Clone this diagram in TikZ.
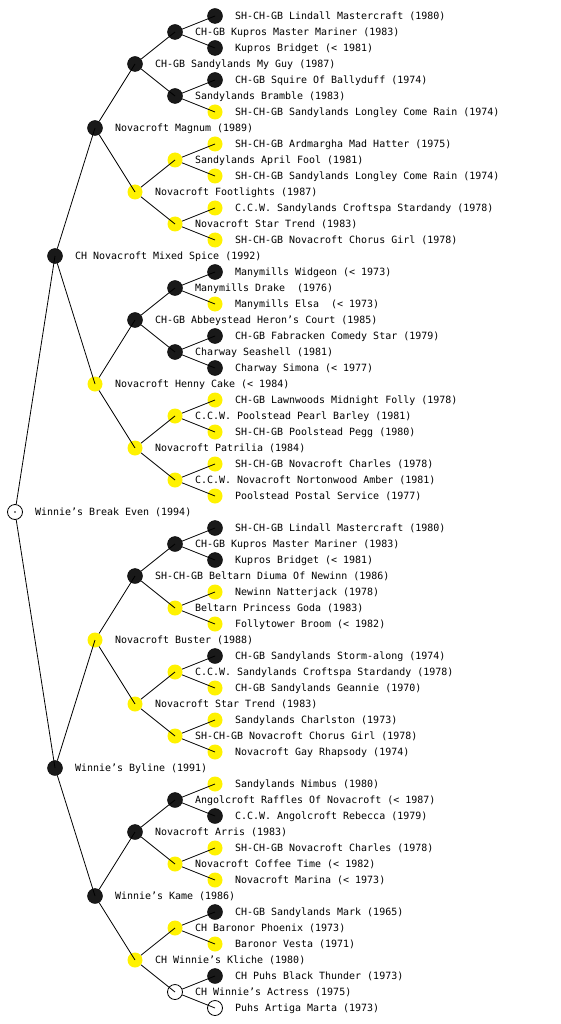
\documentclass[tikz,border=0pt]{standalone}
\usepackage{fontspec}
\newfontfamily\pedfont{DejaVu Sans Mono}
\begin{document}
\begin{tikzpicture}[x=1pt,y=-1pt,
  dog/.style={circle,minimum size=15pt,inner sep=0pt},
  bn/.style={dog,draw=black,fill=black!90},
  yn/.style={dog,draw=none,fill=yellow},
  wn/.style={dog,draw=black,line width=0.8pt,fill=none},
  lbl/.style={anchor=west,inner sep=0pt,font=\pedfont\fontsize{9.97}{12}\selectfont},
  edge/.style={draw=black,line width=0.8pt}]
\useasboundingbox (0,0) rectangle (560,1024);
\newcommand\pn[5]{\node[#2] (n#1) at (#3,{16*#1}) {}; \node[lbl] (t#1) at ({#3+20},{16*#1+0.5}) {#4#5};}
% rows 1..63
\pn{1}{bn}{215}{SH-CH-GB Lindall Mastercraft (1980)}{}
\pn{2}{bn}{175}{CH-GB Kupros Master Mariner (1983)}{}
\pn{3}{bn}{215}{Kupros Bridget (< 1981)}{}
\pn{4}{bn}{135}{CH-GB Sandylands My Guy (1987)}{}
\pn{5}{bn}{215}{CH-GB Squire Of Ballyduff (1974)}{}
\pn{6}{bn}{175}{Sandylands Bramble (1983)}{}
\pn{7}{yn}{215}{SH-CH-GB Sandylands Longley Come Rain (1974)}{}
\pn{8}{bn}{95}{Novacroft Magnum (1989)}{}
\pn{9}{yn}{215}{SH-CH-GB Ardmargha Mad Hatter (1975)}{}
\pn{10}{yn}{175}{Sandylands April Fool (1981)}{}
\pn{11}{yn}{215}{SH-CH-GB Sandylands Longley Come Rain (1974)}{}
\pn{12}{yn}{135}{Novacroft Footlights (1987)}{}
\pn{13}{yn}{215}{C.C.W. Sandylands Croftspa Stardandy (1978)}{}
\pn{14}{yn}{175}{Novacroft Star Trend (1983)}{}
\pn{15}{yn}{215}{SH-CH-GB Novacroft Chorus Girl (1978)}{}
\pn{16}{bn}{55}{CH Novacroft Mixed Spice (1992)}{}
\pn{17}{bn}{215}{Manymills Widgeon (< 1973)}{}
\pn{18}{bn}{175}{Manymills Drake\ \ (1976)}{}
\pn{19}{yn}{215}{Manymills Elsa\ \ (< 1973)}{}
\pn{20}{bn}{135}{CH-GB Abbeystead Heron’s Court (1985)}{}
\pn{21}{bn}{215}{CH-GB Fabracken Comedy Star (1979)}{}
\pn{22}{bn}{175}{Charway Seashell (1981)}{}
\pn{23}{bn}{215}{Charway Simona (< 1977)}{}
\pn{24}{yn}{95}{Novacroft Henny Cake (< 1984)}{}
\pn{25}{yn}{215}{CH-GB Lawnwoods Midnight Folly (1978)}{}
\pn{26}{yn}{175}{C.C.W. Poolstead Pearl Barley (1981)}{}
\pn{27}{yn}{215}{SH-CH-GB Poolstead Pegg (1980)}{}
\pn{28}{yn}{135}{Novacroft Patrilia (1984)}{}
\pn{29}{yn}{215}{SH-CH-GB Novacroft Charles (1978)}{}
\pn{30}{yn}{175}{C.C.W. Novacroft Nortonwood Amber (1981)}{}
\pn{31}{yn}{215}{Poolstead Postal Service (1977)}{}
\pn{32}{wn}{15}{Winnie’s Break Even (1994)}{}
\pn{33}{bn}{215}{SH-CH-GB Lindall Mastercraft (1980)}{}
\pn{34}{bn}{175}{CH-GB Kupros Master Mariner (1983)}{}
\pn{35}{bn}{215}{Kupros Bridget (< 1981)}{}
\pn{36}{bn}{135}{SH-CH-GB Beltarn Diuma Of Newinn (1986)}{}
\pn{37}{yn}{215}{Newinn Natterjack (1978)}{}
\pn{38}{yn}{175}{Beltarn Princess Goda (1983)}{}
\pn{39}{yn}{215}{Follytower Broom (< 1982)}{}
\pn{40}{yn}{95}{Novacroft Buster (1988)}{}
\pn{41}{bn}{215}{CH-GB Sandylands Storm-along (1974)}{}
\pn{42}{yn}{175}{C.C.W. Sandylands Croftspa Stardandy (1978)}{}
\pn{43}{yn}{215}{CH-GB Sandylands Geannie (1970)}{}
\pn{44}{yn}{135}{Novacroft Star Trend (1983)}{}
\pn{45}{yn}{215}{Sandylands Charlston (1973)}{}
\pn{46}{yn}{175}{SH-CH-GB Novacroft Chorus Girl (1978)}{}
\pn{47}{yn}{215}{Novacroft Gay Rhapsody (1974)}{}
\pn{48}{bn}{55}{Winnie’s Byline (1991)}{}
\pn{49}{yn}{215}{Sandylands Nimbus (1980)}{}
\pn{50}{bn}{175}{Angolcroft Raffles Of Novacroft (< 1987)}{}
\pn{51}{bn}{215}{C.C.W. Angolcroft Rebecca (1979)}{}
\pn{52}{bn}{135}{Novacroft Arris (1983)}{}
\pn{53}{yn}{215}{SH-CH-GB Novacroft Charles (1978)}{}
\pn{54}{yn}{175}{Novacroft Coffee Time (< 1982)}{}
\pn{55}{yn}{215}{Novacroft Marina (< 1973)}{}
\pn{56}{bn}{95}{Winnie’s Kame (1986)}{}
\pn{57}{bn}{215}{CH-GB Sandylands Mark (1965)}{}
\pn{58}{yn}{175}{CH Baronor Phoenix (1973)}{}
\pn{59}{yn}{215}{Baronor Vesta (1971)}{}
\pn{60}{yn}{135}{CH Winnie’s Kliche (1980)}{}
\pn{61}{bn}{215}{CH Puhs Black Thunder (1973)}{}
\pn{62}{wn}{175}{CH Winnie’s Actress (1975)}{}
\pn{63}{wn}{215}{Puhs Artiga Marta (1973)}{}
% connectors: parent border to child centre
\foreach \p/\h in {32/16,16/8,48/8,8/4,24/4,40/4,56/4,
  4/2,12/2,20/2,28/2,36/2,44/2,52/2,60/2,
  2/1,6/1,10/1,14/1,18/1,22/1,26/1,30/1,34/1,38/1,42/1,46/1,50/1,54/1,58/1,62/1}{
  \pgfmathtruncatemacro\ca{\p-\h}
  \pgfmathtruncatemacro\cb{\p+\h}
  \draw[edge] (n\p) -- (n\ca.center);
  \draw[edge] (n\p) -- (n\cb.center);
}
\fill (n32.center) circle (0.9);
\end{tikzpicture}
\end{document}
